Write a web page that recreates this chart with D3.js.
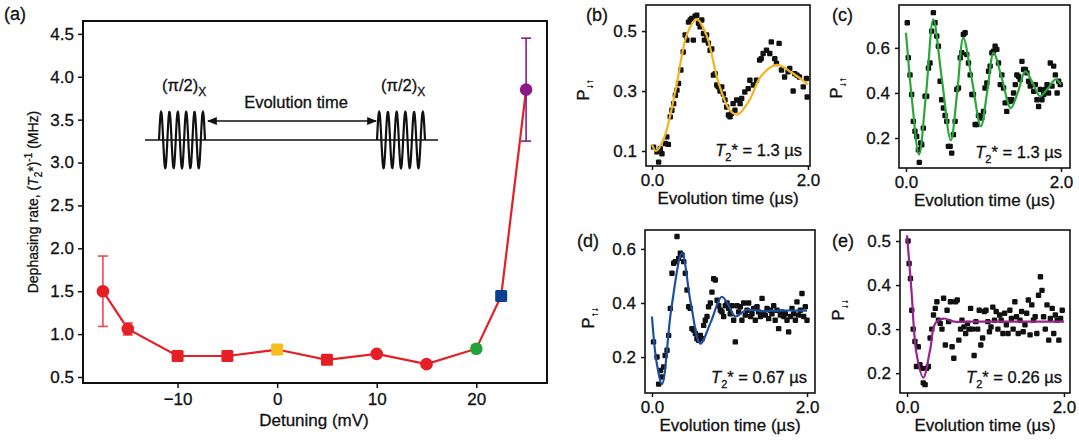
<!DOCTYPE html>
<html>
<head>
<meta charset="utf-8">
<script src="https://cdn.jsdelivr.net/npm/d3@7"></script>
<style>
  body { margin: 0; background: #fff; }
  svg { font-family: "Liberation Sans", Arial, sans-serif; }
  svg text { fill: #111; stroke: #111; stroke-width: 0.3px; }
  .tick text { font-size: 17px; }
  .lbl { font-size: 17px; }
</style>
</head>
<body>
<svg id="fig" width="1079" height="442"></svg>
<script>
// ---- panel (a): dephasing rate vs detuning ----
var detuning = [-17.5, -15, -10, -5, 0, 5, 10, 15, 20, 22.5, 25];
var rate = [1.5, 1.06, 0.745, 0.745, 0.82, 0.70, 0.77, 0.65, 0.83, 1.445, 3.85];
var rateErr = [0.41, 0.07, 0.03, 0.03, 0.03, 0.03, 0.03, 0.03, 0.03, 0.05, 0.6];
var markerShape = ["circle", "circle", "square", "square", "square", "square", "circle", "circle", "circle", "square", "circle"];
var markerColor = ["#e41f26", "#e41f26", "#e41f26", "#e41f26", "#f7bd1d", "#e41f26", "#e41f26", "#e41f26", "#21a339", "#0b3f92", "#8b1a8a"];
var xTicksA = [-10, 0, 10, 20];
var yTicksA = [0.5, 1.0, 1.5, 2.0, 2.5, 3.0, 3.5, 4.0, 4.5];

// ---- panel (b) ----
var tB = [0.02,0.064,0.085,0.106,0.128,0.17,0.19,0.21,0.234,0.255,0.277,0.30,0.32,0.34,0.37,0.40,0.425,0.447,0.468,0.49,0.51,0.53,0.553,0.574,0.596,0.617,0.638,0.66,0.672,0.70,0.723,0.745,0.766,0.787,0.81,0.83,0.85,0.872,0.894,0.915,0.936,0.957,0.98,1.0,1.02,1.04,1.064,1.085,1.13,1.15,1.19,1.234,1.255,1.30,1.34,1.38,1.40,1.425,1.468,1.51,1.53,1.574,1.596,1.63,1.66,1.70,1.745,1.766,1.81,1.83,1.86,1.89,1.94,1.98,1.99];
var pB = [0.113,0.097,0.063,0.108,0.091,0.125,0.147,0.122,0.214,0.236,0.258,0.286,0.303,0.325,0.37,0.43,0.487,0.47,0.53,0.537,0.542,0.47,0.55,0.553,0.526,0.514,0.537,0.492,0.47,0.487,0.46,0.436,0.44,0.353,0.358,0.32,0.314,0.30,0.314,0.29,0.27,0.247,0.22,0.214,0.225,0.258,0.236,0.27,0.258,0.275,0.297,0.308,0.336,0.32,0.336,0.403,0.408,0.425,0.436,0.425,0.464,0.408,0.392,0.459,0.37,0.347,0.364,0.375,0.30,0.358,0.353,0.347,0.314,0.342,0.28];
var fitTB = [0, 0.05, 0.15, 0.3, 0.45, 0.57, 0.7, 0.85, 1.0, 1.1, 1.25, 1.4, 1.6, 1.8, 2.0];
var fitPB = [0.122, 0.10, 0.14, 0.30, 0.49, 0.54, 0.485, 0.33, 0.235, 0.222, 0.27, 0.35, 0.387, 0.36, 0.322];

// ---- panel (c) ----
var tC = [0.017,0.03,0.052,0.073,0.095,0.116,0.138,0.16,0.172,0.19,0.203,0.224,0.246,0.267,0.29,0.31,0.332,0.353,0.375,0.397,0.418,0.44,0.46,0.483,0.504,0.526,0.547,0.57,0.59,0.612,0.634,0.655,0.677,0.70,0.72,0.74,0.763,0.784,0.806,0.828,0.85,0.87,0.892,0.914,0.935,0.957,0.978,1.0,1.02,1.043,1.065,1.086,1.108,1.13,1.15,1.172,1.194,1.216,1.237,1.259,1.28,1.30,1.323,1.345,1.366,1.388,1.41,1.43,1.453,1.474,1.496,1.517,1.54,1.56,1.582,1.603,1.647,1.668,1.69,1.711,1.733,1.754,1.776,1.80,1.82,1.84,1.862,1.884,1.905,1.927,1.95,1.97,1.99];
var pC = [0.711,0.556,0.48,0.393,0.274,0.23,0.207,0.148,0.092,0.178,0.17,0.244,0.385,0.385,0.51,0.533,0.674,0.756,0.711,0.652,0.607,0.452,0.37,0.333,0.30,0.274,0.163,0.163,0.133,0.215,0.274,0.415,0.422,0.556,0.578,0.659,0.667,0.57,0.533,0.48,0.393,0.393,0.26,0.26,0.30,0.296,0.289,0.318,0.422,0.444,0.496,0.519,0.578,0.585,0.607,0.593,0.533,0.437,0.48,0.422,0.356,0.318,0.37,0.363,0.37,0.40,0.437,0.48,0.473,0.459,0.54,0.504,0.504,0.489,0.452,0.43,0.407,0.437,0.37,0.34,0.415,0.37,0.393,0.415,0.437,0.40,0.533,0.43,0.519,0.48,0.40,0.452,0.437];
var fitTC = [0, 0.08, 0.168, 0.26, 0.353, 0.46, 0.578, 0.66, 0.74, 0.85, 0.966, 1.05, 1.13, 1.24, 1.353, 1.45, 1.54, 1.64, 1.73, 1.83, 1.93, 2.0];
var fitPC = [0.667, 0.36, 0.126, 0.40, 0.726, 0.47, 0.19, 0.40, 0.644, 0.46, 0.252, 0.41, 0.578, 0.46, 0.333, 0.41, 0.496, 0.44, 0.385, 0.42, 0.46, 0.437];

// ---- panel (d) ----
var tD = [0.02,0.065,0.086,0.11,0.13,0.15,0.17,0.194,0.215,0.237,0.258,0.28,0.30,0.323,0.344,0.366,0.387,0.41,0.43,0.452,0.473,0.495,0.516,0.538,0.56,0.58,0.60,0.624,0.645,0.667,0.688,0.71,0.73,0.753,0.774,0.796,0.817,0.84,0.86,0.882,0.903,0.925,0.946,0.968,0.99,1.01,1.032,1.054,1.075,1.097,1.118,1.14,1.16,1.183,1.204,1.226,1.247,1.27,1.29,1.312,1.333,1.355,1.376,1.40,1.42,1.44,1.462,1.484,1.505,1.527,1.548,1.57,1.59,1.613,1.634,1.656,1.677,1.70,1.72,1.742,1.763,1.785,1.806,1.828,1.85,1.87,1.892,1.914,1.935,1.957,1.978,2.0];
var pD = [0.256,0.20,0.10,0.15,0.126,0.163,0.206,0.225,0.28,0.38,0.51,0.547,0.553,0.646,0.565,0.584,0.578,0.553,0.51,0.448,0.386,0.38,0.305,0.30,0.287,0.268,0.262,0.28,0.268,0.317,0.336,0.35,0.386,0.40,0.44,0.49,0.485,0.41,0.39,0.373,0.367,0.35,0.39,0.40,0.38,0.36,0.39,0.336,0.256,0.39,0.367,0.386,0.336,0.40,0.355,0.373,0.40,0.35,0.36,0.38,0.336,0.386,0.367,0.35,0.417,0.36,0.355,0.38,0.342,0.373,0.36,0.39,0.336,0.373,0.305,0.355,0.367,0.35,0.36,0.336,0.293,0.35,0.38,0.36,0.336,0.404,0.355,0.373,0.435,0.35,0.386,0.336];
var fitTD = [0, 0.06, 0.13, 0.25, 0.387, 0.5, 0.624, 0.76, 0.90, 1.0, 1.075, 1.226, 1.4, 1.6, 2.0];
var fitPD = [0.35, 0.18, 0.10, 0.38, 0.584, 0.40, 0.25, 0.33, 0.423, 0.385, 0.35, 0.375, 0.37, 0.372, 0.372];

// ---- panel (e) ----
var tE = [0.013,0.026,0.043,0.06,0.078,0.10,0.12,0.143,0.164,0.186,0.207,0.23,0.25,0.272,0.294,0.315,0.337,0.36,0.38,0.40,0.423,0.445,0.466,0.488,0.51,0.53,0.553,0.574,0.596,0.618,0.64,0.66,0.682,0.70,0.726,0.747,0.77,0.79,0.81,0.834,0.855,0.877,0.90,0.92,0.94,0.963,0.985,1.006,1.03,1.05,1.07,1.093,1.115,1.136,1.158,1.18,1.20,1.222,1.244,1.266,1.287,1.31,1.33,1.352,1.374,1.395,1.417,1.44,1.46,1.48,1.503,1.525,1.546,1.568,1.59,1.611,1.633,1.654,1.676,1.70,1.72,1.74,1.762,1.784,1.806,1.827,1.85,1.87,1.89,1.914,1.935,1.957,1.978];
var pE = [0.50,0.449,0.415,0.343,0.30,0.272,0.215,0.26,0.219,0.211,0.178,0.174,0.211,0.215,0.28,0.30,0.332,0.347,0.362,0.32,0.313,0.30,0.37,0.264,0.343,0.317,0.362,0.26,0.234,0.362,0.366,0.275,0.30,0.32,0.305,0.29,0.313,0.30,0.347,0.30,0.24,0.317,0.30,0.343,0.264,0.28,0.34,0.343,0.317,0.294,0.305,0.35,0.32,0.34,0.30,0.332,0.32,0.29,0.336,0.31,0.29,0.343,0.324,0.30,0.362,0.328,0.29,0.32,0.34,0.294,0.31,0.336,0.366,0.287,0.355,0.32,0.328,0.29,0.377,0.419,0.388,0.328,0.30,0.355,0.275,0.324,0.347,0.29,0.332,0.32,0.275,0.324,0.343];
var fitTE = [0, 0.056, 0.12, 0.207, 0.294, 0.36, 0.466, 0.6, 0.8, 1.2, 2.0];
var fitPE = [0.513, 0.388, 0.245, 0.19, 0.253, 0.313, 0.324, 0.317, 0.317, 0.317, 0.317];

var svg = d3.select("#fig");

// ================= panel (a) =================
var a = { left: 83, right: 547, top: 21, bottom: 383 };
var xA = d3.scaleLinear().domain([-19.5, 27.1]).range([a.left, a.right]);
var yA = d3.scaleLinear().domain([0.43, 4.65]).range([a.bottom, a.top]);

svg.append("g")
  .attr("transform", "translate(0," + a.bottom + ")")
  .call(d3.axisBottom(xA).tickValues(xTicksA).tickSize(5).tickPadding(5)
    .tickFormat(function (d) { return d < 0 ? "\u2212" + Math.abs(d) : d; }))
  .call(function (g) { g.select(".domain").remove(); });
svg.append("g")
  .attr("transform", "translate(" + a.left + ",0)")
  .call(d3.axisLeft(yA).tickValues(yTicksA).tickSize(5).tickPadding(4).tickFormat(d3.format(".1f")))
  .call(function (g) { g.select(".domain").remove(); });
svg.selectAll(".tick line").attr("stroke", "#111").attr("stroke-width", 1.5);

svg.append("rect")
  .attr("x", a.left).attr("y", a.top)
  .attr("width", a.right - a.left).attr("height", a.bottom - a.top)
  .attr("fill", "none").attr("stroke", "#111").attr("stroke-width", 2);

// inset: Ramsey pulse sequence schematic
var inset = svg.append("g");
var baseY = 140;
inset.append("line").attr("x1", 145).attr("x2", 438).attr("y1", baseY).attr("y2", baseY)
  .attr("stroke", "#111").attr("stroke-width", 1.6);
[[159, 205], [377, 425]].forEach(function (p) {
  var pts = d3.range(0, 1.0001, 0.005).map(function (u) {
    return [p[0] + u * (p[1] - p[0]), baseY - 28 * Math.sin(u * 2 * Math.PI * 5.5)];
  });
  inset.append("path").attr("d", d3.line()(pts)).attr("fill", "none")
    .attr("stroke", "#111").attr("stroke-width", 2.2);
});
svg.append("defs").append("marker").attr("id", "arr")
  .attr("viewBox", "0 0 10 10").attr("refX", 9).attr("refY", 5)
  .attr("markerWidth", 7).attr("markerHeight", 7).attr("orient", "auto-start-reverse")
  .append("path").attr("d", "M0,1 L10,5 L0,9 Z").attr("fill", "#111");
inset.append("line").attr("x1", 208).attr("x2", 376).attr("y1", 121).attr("y2", 121)
  .attr("stroke", "#111").attr("stroke-width", 1.4)
  .attr("marker-start", "url(#arr)").attr("marker-end", "url(#arr)");
inset.append("text").attr("class", "lbl").attr("x", 296).attr("y", 108)
  .attr("text-anchor", "middle").style("font-size", "16.5px").text("Evolution time");
[162, 381].forEach(function (x) {
  var t = inset.append("text").attr("class", "lbl").attr("x", x).attr("y", 91).style("font-size", "16.5px");
  t.append("tspan").text("(\u03c0/2)");
  t.append("tspan").attr("dy", 5).style("font-size", "12px").text("X");
});

// line + error bars + markers
svg.append("path")
  .attr("d", d3.line().x(function (d, i) { return xA(detuning[i]); }).y(function (d) { return yA(d); })(rate))
  .attr("fill", "none").attr("stroke", "#e41f26").attr("stroke-width", 2.2);

var errCol = function (i) { return markerColor[i] === "#e41f26" ? "#ec4a50" : markerColor[i]; };
detuning.forEach(function (d, i) {
  var cx = xA(d), y1 = yA(rate[i] + rateErr[i]), y2 = yA(rate[i] - rateErr[i]);
  var g = svg.append("g").attr("stroke", errCol(i)).attr("stroke-width", 1.6);
  g.append("line").attr("x1", cx).attr("x2", cx).attr("y1", y1).attr("y2", y2);
  g.append("line").attr("x1", cx - 5).attr("x2", cx + 5).attr("y1", y1).attr("y2", y1);
  g.append("line").attr("x1", cx - 5).attr("x2", cx + 5).attr("y1", y2).attr("y2", y2);
});
detuning.forEach(function (d, i) {
  var cx = xA(d), cy = yA(rate[i]);
  if (markerShape[i] === "circle") {
    svg.append("circle").attr("cx", cx).attr("cy", cy).attr("r", 6.3).attr("fill", markerColor[i]);
  } else {
    svg.append("rect").attr("x", cx - 6).attr("y", cy - 6).attr("width", 12).attr("height", 12)
      .attr("rx", 1.5).attr("fill", markerColor[i]);
  }
});

svg.append("text").attr("class", "lbl").attr("x", 4).attr("y", 20).style("font-size", "18px").text("(a)");
svg.append("text").attr("class", "lbl").attr("x", 314).attr("y", 426).attr("text-anchor", "middle").text("Detuning (mV)");
var yl = svg.append("text").attr("class", "lbl").attr("transform", "translate(38,202) rotate(-90)")
  .attr("text-anchor", "middle").style("font-size", "14px");
yl.append("tspan").text("Dephasing rate, (");
yl.append("tspan").style("font-style", "italic").text("T");
yl.append("tspan").attr("dy", 4).style("font-size", "10px").text("2");
yl.append("tspan").attr("dy", -4).text("*)");
yl.append("tspan").attr("dy", -6).style("font-size", "10px").text("-1");
yl.append("tspan").attr("dy", 6).text(" (MHz)");

// ================= small panels =================
function smallPanel(o) {
  var x = d3.scaleLinear().domain(o.xd).range([o.left, o.right]);
  var y = d3.scaleLinear().domain(o.yd).range([o.bottom, o.top]);
  var g = svg.append("g");
  g.append("g").attr("transform", "translate(0," + o.bottom + ")")
    .call(d3.axisBottom(x).tickValues([0, 2]).tickSize(4).tickPadding(4).tickFormat(d3.format(".1f")))
    .call(function (s) { s.select(".domain").remove(); });
  g.append("g").attr("transform", "translate(" + o.left + ",0)")
    .call(d3.axisLeft(y).tickValues(o.yt).tickSize(4).tickPadding(5).tickFormat(d3.format(".1f")))
    .call(function (s) { s.select(".domain").remove(); });
  g.selectAll(".tick line").attr("stroke", "#111").attr("stroke-width", 1.5);
  g.append("rect").attr("x", o.left).attr("y", o.top)
    .attr("width", o.right - o.left).attr("height", o.bottom - o.top)
    .attr("fill", "none").attr("stroke", "#111").attr("stroke-width", 1.6);

  g.selectAll("rect.pt").data(o.t).enter().append("rect").attr("class", "pt")
    .attr("x", function (d) { return x(d) - 2.7; })
    .attr("y", function (d, i) { return y(o.p[i]) - 2.7; })
    .attr("width", 5.4).attr("height", 5.4).attr("rx", 1.2).attr("fill", "#111");

  g.append("path")
    .attr("d", d3.line().curve(d3.curveCatmullRom.alpha(0.5))
      .x(function (d) { return x(d); }).y(function (d, i) { return y(o.fp[i]); })(o.ft))
    .attr("fill", "none").attr("stroke", o.color).attr("stroke-width", 2.2);

  g.append("text").attr("class", "lbl").attr("x", o.tagX).attr("y", o.tagY).style("font-size", "18px").text(o.tag);
  g.append("text").attr("class", "lbl").attr("x", (o.left + o.right) / 2).attr("y", o.bottom + 38)
    .attr("text-anchor", "middle").text("Evolution time (\u00b5s)");
  var yl = g.append("text").attr("class", "lbl")
    .attr("transform", "translate(" + o.ylX + "," + o.ylY + ") rotate(-90)").attr("text-anchor", "middle");
  yl.append("tspan").text("P");
  yl.append("tspan").attr("dy", 4).style("font-size", "10px").text(o.sub);
  var tt = g.append("text").attr("class", "lbl").attr("x", o.right - 8).attr("y", o.bottom - 10)
    .attr("text-anchor", "end").style("font-size", "16.5px");
  tt.append("tspan").style("font-style", "italic").text("T");
  tt.append("tspan").attr("dy", 5).style("font-size", "11px").text("2");
  tt.append("tspan").attr("dy", -5).text("* = " + o.t2);
}

smallPanel({ left: 646, right: 810, top: 5, bottom: 166, xd: [-0.077, 2.026], yd: [0.05, 0.587], yt: [0.1, 0.3, 0.5],
  t: tB, p: pB, ft: fitTB, fp: fitPB, color: "#f2b51c", tag: "(b)", tagX: 586, tagY: 21, ylX: 589, ylY: 90, sub: "\u2193\u2191", t2: "1.3 \u00b5s" });
smallPanel({ left: 899, right: 1070, top: 5, bottom: 168, xd: [-0.09, 2.116], yd: [0.067, 0.79], yt: [0.2, 0.4, 0.6],
  t: tC, p: pC, ft: fitTC, fp: fitPC, color: "#2aa63a", tag: "(c)", tagX: 832, tagY: 21, ylX: 842, ylY: 88, sub: "\u2193\u2191", t2: "1.3 \u00b5s" });
smallPanel({ left: 645, right: 815, top: 230, bottom: 393, xd: [-0.09, 2.103], yd: [0.067, 0.67], yt: [0.2, 0.4, 0.6],
  t: tD, p: pD, ft: fitTD, fp: fitPD, color: "#1d4f9e", tag: "(d)", tagX: 577, tagY: 247, ylX: 594, ylY: 318, sub: "\u2191\u2193", t2: "0.67 \u00b5s" });
smallPanel({ left: 900, right: 1070, top: 230, bottom: 393, xd: [-0.09, 2.077], yd: [0.155, 0.525], yt: [0.2, 0.3, 0.4, 0.5],
  t: tE, p: pE, ft: fitTE, fp: fitPE, color: "#98258f", tag: "(e)", tagX: 832, tagY: 247, ylX: 844, ylY: 310, sub: "\u2193\u2193", t2: "0.26 \u00b5s" });
</script>
</body>
</html>
